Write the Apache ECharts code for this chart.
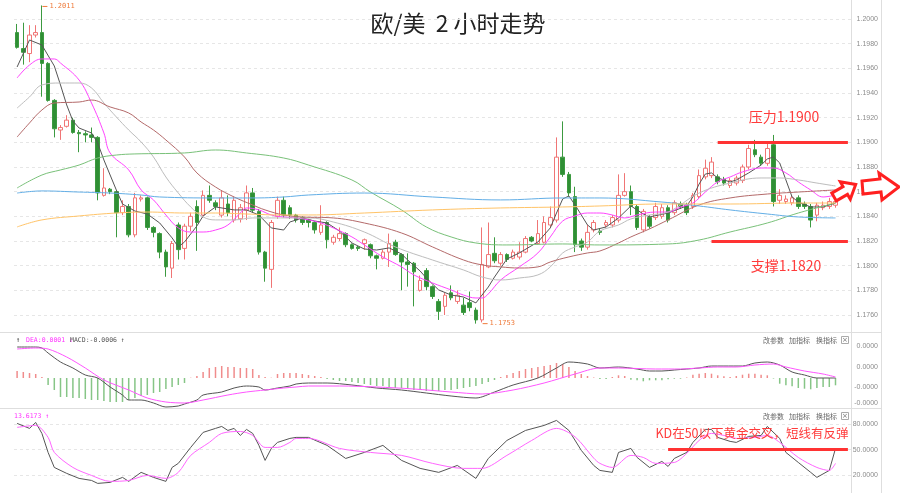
<!DOCTYPE html>
<html><head><meta charset="utf-8">
<script src="https://cdn.jsdelivr.net/npm/echarts@6/dist/echarts.min.js"></script>
<style>html,body{margin:0;padding:0;background:#fff}#c{width:900px;height:493px}</style>
</head><body><div id="c"></div>
<script>
// ---------- data ----------
const categories = Array.from({length:135},(_,i)=>'K'+(i+1));
// [open, close, low, high]
const candles = [
[1.1989,1.1977,1.1976,1.1996],[1.1976,1.1973,1.1963,1.1997],[1.1972,1.1987,1.1965,1.1995],[1.1987,1.1989,1.1985,1.1995],[1.1989,1.1964,1.1937,1.2011],
[1.1964,1.1934,1.1933,1.1965],[1.1934,1.1911,1.1904,1.1935],[1.1910,1.1912,1.1902,1.1914],[1.1913,1.1918,1.1912,1.1922],[1.1918,1.1908,1.1907,1.1920],
[1.1908,1.1907,1.1892,1.1910],[1.1907,1.1906,1.1900,1.1909],[1.1906,1.1904,1.1900,1.1912],[1.1904,1.1859,1.1853,1.1905],[1.1857,1.1863,1.1856,1.1879],
[1.1862,1.1860,1.1858,1.1863],[1.1860,1.1843,1.1823,1.1861],[1.1843,1.1848,1.1841,1.1853],[1.1848,1.1825,1.1823,1.1850],[1.1825,1.1855,1.1823,1.1859],
[1.1854,1.1855,1.1852,1.1857],[1.1855,1.1831,1.1829,1.1856],[1.1831,1.1827,1.1823,1.1832],[1.1826,1.1811,1.1806,1.1827],[1.1811,1.1799,1.1791,1.1813],
[1.1798,1.1818,1.1790,1.1820],[1.1833,1.1813,1.1805,1.1835],[1.1814,1.1832,1.1805,1.1834],[1.1832,1.1840,1.1828,1.1843],[1.1848,1.1835,1.1812,1.1853],
[1.1841,1.1857,1.1839,1.1861],[1.1857,1.1853,1.1851,1.1865],[1.1851,1.1848,1.1845,1.1853],[1.1841,1.1855,1.1839,1.1861],[1.1850,1.1843,1.1840,1.1857],
[1.1837,1.1853,1.1835,1.1856],[1.1838,1.1847,1.1835,1.1850],[1.1845,1.1859,1.1837,1.1865],[1.1859,1.1845,1.1843,1.1863],[1.1844,1.1811,1.1809,1.1846],
[1.1811,1.1798,1.1787,1.1812],[1.1797,1.1835,1.1782,1.1837],[1.1840,1.1853,1.1838,1.1856],[1.1853,1.1841,1.1839,1.1856],[1.1847,1.1841,1.1838,1.1849],
[1.1841,1.1837,1.1835,1.1842],[1.1839,1.1835,1.1833,1.1840],[1.1837,1.1835,1.1831,1.1838],[1.1835,1.1829,1.1826,1.1836],[1.1827,1.1833,1.1825,1.1849],
[1.1835,1.1821,1.1814,1.1836],[1.1819,1.1823,1.1817,1.1825],[1.1822,1.1826,1.1820,1.1831],[1.1826,1.1817,1.1815,1.1827],[1.1817,1.1814,1.1813,1.1818],
[1.1815,1.1814,1.1812,1.1816],[1.1818,1.1821,1.1813,1.1822],[1.1817,1.1808,1.1806,1.1818],[1.1808,1.1806,1.1797,1.1809],[1.1806,1.1811,1.1805,1.1813],
[1.1811,1.1818,1.1799,1.1826],[1.1819,1.1809,1.1808,1.1821],[1.1809,1.1803,1.1780,1.1810],[1.1803,1.1801,1.1783,1.1810],[1.1802,1.1795,1.1767,1.1803],
[1.1780,1.1788,1.1779,1.1792],[1.1796,1.1783,1.1780,1.1798],[1.1783,1.1775,1.1773,1.1784],[1.1771,1.1763,1.1756,1.1773],[1.1767,1.1776,1.1760,1.1778],
[1.1778,1.1774,1.1772,1.1784],[1.1771,1.1776,1.1769,1.1780],[1.1768,1.1762,1.1760,1.1774],[1.1770,1.1766,1.1763,1.1779],[1.1764,1.1756,1.1753,1.1766],
[1.1756,1.1801,1.1754,1.1831],[1.1799,1.1809,1.1798,1.1835],[1.1810,1.1804,1.1802,1.1823],[1.1802,1.1809,1.1800,1.1811],[1.1809,1.1805,1.1803,1.1810],
[1.1806,1.1811,1.1805,1.1813],[1.1807,1.1811,1.1805,1.1819],[1.1811,1.1822,1.1810,1.1824],[1.1823,1.1820,1.1819,1.1824],[1.1818,1.1826,1.1817,1.1837],
[1.1819,1.1835,1.1818,1.1840],[1.1833,1.1839,1.1831,1.1848],[1.1837,1.1888,1.1835,1.1904],[1.1888,1.1874,1.1872,1.1917],[1.1874,1.1859,1.1856,1.1876],
[1.1856,1.1817,1.1811,1.1864],[1.1820,1.1815,1.1812,1.1822],[1.1815,1.1827,1.1813,1.1833],[1.1829,1.1835,1.1827,1.1837],[1.1828,1.1827,1.1825,1.1830],
[1.1833,1.1835,1.1831,1.1837],[1.1833,1.1839,1.1831,1.1841],[1.1837,1.1857,1.1835,1.1874],[1.1857,1.1860,1.1856,1.1875],[1.1860,1.1848,1.1841,1.1865],
[1.1848,1.1831,1.1829,1.1850],[1.1829,1.1844,1.1827,1.1846],[1.1839,1.1832,1.1830,1.1841],[1.1839,1.1848,1.1837,1.1851],[1.1840,1.1847,1.1838,1.1850],
[1.1847,1.1837,1.1835,1.1849],[1.1843,1.1851,1.1841,1.1853],[1.1850,1.1848,1.1846,1.1852],[1.1849,1.1843,1.1841,1.1851],[1.1848,1.1857,1.1846,1.1859],
[1.1856,1.1873,1.1854,1.1878],[1.1872,1.1879,1.1870,1.1886],[1.1873,1.1884,1.1871,1.1888],[1.1872,1.1868,1.1866,1.1874],[1.1870,1.1867,1.1865,1.1872],
[1.1865,1.1869,1.1863,1.1871],[1.1867,1.1871,1.1865,1.1873],[1.1869,1.1880,1.1867,1.1882],[1.1880,1.1895,1.1878,1.1898],[1.1894,1.1890,1.1888,1.1902],
[1.1888,1.1883,1.1881,1.1890],[1.1883,1.1895,1.1881,1.1899],[1.1898,1.1852,1.1848,1.1906],[1.1853,1.1857,1.1850,1.1862],[1.1852,1.1854,1.1850,1.1857],
[1.1851,1.1855,1.1849,1.1857],[1.1855,1.1848,1.1846,1.1857],[1.1850,1.1848,1.1846,1.1852],[1.1848,1.1837,1.1831,1.1850],[1.1841,1.1849,1.1836,1.1851],
[1.1847,1.1849,1.1845,1.1852],[1.1848,1.1852,1.1846,1.1855],[1.1849,1.1852,1.1847,1.1854]
];
// moving averages: [candle index, value]
const ma5 = [[0,1.19611],[2,1.19830],[4,1.19789],[6,1.19619],[7,1.19465],[8,1.19303],[9,1.19173],[10,1.19116],[12,1.19076],[13,1.18995],[14,1.18857],[16,1.18614],[17,1.18500],[19,1.18443],[21,1.18419],[23,1.18346],[25,1.18225],[26,1.18152],[27,1.18192],[29,1.18322],[30,1.18403],[32,1.18476],[35,1.18452],[37,1.18452],[39,1.18411],[41,1.18306],[43,1.18289],[44,1.18354],[46,1.18387],[48,1.18362],[50,1.18346],[52,1.18281],[54,1.18184],[56,1.18135],[58,1.18127],[60,1.18144],[62,1.18095],[63,1.18046],[65,1.17957],[66,1.17900],[68,1.17803],[70,1.17762],[72,1.17746],[74,1.17698],[76,1.17827],[77,1.17908],[79,1.18054],[81,1.18103],[84,1.18192],[86,1.18306],[87,1.18427],[88,1.18541],[89,1.18565],[90,1.18492],[92,1.18330],[93,1.18289],[95,1.18314],[97,1.18387],[99,1.18484],[101,1.18419],[102,1.18395],[105,1.18427],[108,1.18484],[109,1.18557],[110,1.18662],[111,1.18743],[112,1.18752],[113,1.18711],[115,1.18679],[116,1.18695],[118,1.18752],[120,1.18816],[121,1.18865],[122,1.18881],[123,1.18833],[124,1.18695],[125,1.18557],[126,1.18516],[128,1.18476],[130,1.18476],[132,1.18508]];
const ma10 = [[0,1.19522],[2,1.19627],[4,1.19676],[6,1.19676],[7,1.19643],[10,1.19505],[12,1.19319],[14,1.19076],[15,1.18914],[18,1.18776],[20,1.18614],[22,1.18533],[24,1.18411],[26,1.18306],[28,1.18273],[30,1.18273],[32,1.18289],[34,1.18330],[36,1.18427],[37,1.18468],[39,1.18452],[41,1.18411],[43,1.18395],[45,1.18387],[47,1.18371],[49,1.18346],[51,1.18306],[54,1.18233],[56,1.18168],[59,1.18071],[62,1.17990],[64,1.17925],[67,1.17860],[70,1.17803],[72,1.17762],[74,1.17738],[75,1.17738],[76,1.17771],[78,1.17884],[81,1.17990],[84,1.18103],[86,1.18233],[88,1.18362],[90,1.18403],[92,1.18427],[94,1.18427],[96,1.18411],[98,1.18387],[100,1.18411],[103,1.18435],[105,1.18435],[107,1.18476],[109,1.18508],[111,1.18597],[113,1.18679],[115,1.18719],[117,1.18760],[120,1.18792],[122,1.18792],[124,1.18752],[126,1.18679],[128,1.18614],[130,1.18557],[132,1.18573]];
const ma20 = [[0,1.19278],[2,1.19368],[4,1.19465],[7,1.19481],[10,1.19481],[12,1.19441],[14,1.19319],[16,1.19206],[18,1.19100],[20,1.19003],[22,1.18881],[24,1.18719],[26,1.18589],[28,1.18476],[30,1.18395],[32,1.18371],[35,1.18371],[38,1.18387],[41,1.18387],[44,1.18387],[47,1.18387],[51,1.18354],[56,1.18273],[61,1.18152],[67,1.18046],[72,1.17965],[75,1.17908],[78,1.17884],[81,1.17900],[84,1.17925],[86,1.17990],[88,1.18103],[90,1.18152],[92,1.18192],[94,1.18281],[97,1.18330],[99,1.18379],[102,1.18411],[105,1.18435],[110,1.18589],[115,1.18670],[120,1.18711],[123,1.18711],[126,1.18695],[129,1.18670],[132,1.18646]];
const ma30 = [[0,1.19043],[2,1.19157],[4,1.19262],[6,1.19319],[10,1.19327],[12,1.19343],[15,1.19287],[18,1.19238],[20,1.19165],[22,1.19100],[24,1.19019],[27,1.18881],[29,1.18752],[32,1.18638],[35,1.18557],[38,1.18492],[40,1.18452],[43,1.18411],[46,1.18395],[51,1.18387],[56,1.18346],[62,1.18265],[67,1.18152],[72,1.18046],[75,1.18006],[78,1.17990],[81,1.17981],[84,1.17990],[86,1.18030],[89,1.18071],[92,1.18103],[94,1.18119],[97,1.18184],[99,1.18233],[102,1.18298],[105,1.18371],[110,1.18492],[115,1.18549],[121,1.18581],[126,1.18597],[132,1.18614]];
const ma60 = [[0,1.18630],[4,1.18735],[7,1.18776],[10,1.18816],[13,1.18873],[16,1.18897],[19,1.18906],[27,1.18914],[32,1.18938],[37,1.18914],[43,1.18873],[47,1.18816],[54,1.18695],[57,1.18597],[62,1.18452],[66,1.18314],[70,1.18233],[74,1.18184],[79,1.18168],[88,1.18176],[94,1.18168],[105,1.18176],[110,1.18208],[115,1.18273],[121,1.18346],[126,1.18427],[132,1.18508]];
const ma120 = [[0,1.18589],[4,1.18606],[10,1.18597],[15,1.18589],[20,1.18573],[23,1.18557],[32,1.18549],[38,1.18549],[43,1.18557],[47,1.18573],[56,1.18589],[67,1.18557],[78,1.18533],[88,1.18549],[94,1.18549],[104,1.18516],[110,1.18484],[115,1.18452],[121,1.18419],[126,1.18395],[132,1.18387]];
const ma200 = [[0,1.18314],[4,1.18371],[10,1.18403],[16,1.18427],[21,1.18435],[27,1.18427],[32,1.18427],[37,1.18419],[43,1.18411],[47,1.18411],[56,1.18427],[67,1.18452],[78,1.18468],[88,1.18476],[94,1.18484],[104,1.18500],[115,1.18500],[126,1.18508],[132,1.18508]];
// MACD panel (arbitrary units)
const macdHist = [7,6,5,4,1,-7,-12,-19,-19,-20,-20,-21,-22,-22,-23,-24,-24,-24,-22,-20,-18,-17,-15,-14,-11,-9,-7,-5,0.3,2,6,10,11,12,11,11,10,10,9,3,1,0.3,4,5,5,5,
4,3,2,1,-1,-2,-3,-3,-4,-5,-6,-7,-8,-8,-9,-10,-10,-11,-12,-12,-13,-13,-13,-12,-12,-11,-10,-9,-8,-6,-4,-2,1,3,5,7,9,10,11,12,13,15,14,11,7,4,2,0.5,
-1,-1,1,2.7,2,-1.7,-2.3,-3.3,-2.3,-2.3,-2.3,-1.3,-0.7,-0.7,0.5,3.3,4.3,5,4.3,2.7,1.7,1,2,3.3,4.3,4.3,3.3,2.7,-0.5,-5.7,-7.3,-8.3,-10,-10.7,-11.3,-10,-9,-9,-7.3];
const dif = [[0,31],[3,31],[4,30],[5,25],[7,16],[9,10],[11,3],[13,0],[15,-9],[17,-17],[18,-22],[20,-22],[22,-25],[24,-29],[26,-28],[27,-26],[29,-22],[30,-17],[33,-14],[35,-10],[37,-8],[39,-9],[40,-12],[42,-10],[44,-8],[45,-6],[47,-5],[50,-5],[54,-7],[58,-10],[62,-12],[66,-15],[70,-18],[74,-20],[77,-14],[80,-7],[84,0],[87,10],[89,16],[92,14],[94,10],[97,11],[100,9],[102,7],[104,7],[106,8],[108,9],[110,10],[112,12],[114,12],[117,12],[119,15],[121,16],[123,13],[125,6],[127,3],[129,0],[131,0],[132,0]];
const dea = [[0,29],[3,30],[5,29],[8,21],[11,10],[14,-2],[18,-12],[21,-20],[24,-24],[27,-25],[30,-22],[34,-17],[37,-14],[40,-12],[43,-10],[45,-9],[47,-8],[52,-8],[58,-9],[64,-11],[70,-14],[75,-16],[80,-12],[85,-5],[90,4],[94,10],[97,10],[103,9],[107,9],[110,10],[113,11],[116,11],[119,13],[122,14],[124,11],[127,7],[130,4],[132,1]];
const macdTickValues = [32,11,-9,-25];
const macdTickLabels = ['0.0000','0.0000','-0.0000','-0.0000'];
// KD panel
const kLine = [[0,80.9],[2,75],[3,82],[4,69.1],[5,46.7],[6,29],[8,22],[10,16.1],[12,13.7],[13,10.2],[15,11.4],[17,17.3],[18,12.6],[20,23.2],[22,17.3],[24,12.6],[25,29],[26,33.8],[28,52.6],[30,70.3],[32,75],[33,77.3],[34,72.6],[35,75],[36,66.7],[37,73.8],[38,69.1],[39,55],[40,37.3],[41,51.4],[42,58.5],[44,63.2],[45,64.4],[47,64.4],[50,55],[53,39.6],[56,46.7],[59,55],[62,37.3],[65,27.9],[68,23.2],[71,31.4],[74,16.1],[76,39.6],[79,60.8],[82,72.6],[85,78.5],[87,84.4],[89,72.6],[91,49.1],[93,31.4],[94,25.5],[96,23.2],[97,46.7],[99,51.4],[100,40.8],[102,29],[104,36.1],[105,30.2],[106,39.6],[108,46.7],[109,58.5],[111,73.8],[112,73.8],[113,64.4],[115,59.7],[116,58.5],[118,65.6],[120,66.7],[121,77.3],[123,63.2],[124,46.7],[126,34.9],[128,23.2],[129,17.3],[131,25.5],[132,51.4]];
const dLine = [[0,76.2],[3,78.5],[5,64.4],[6,46.7],[9,29],[12,19.6],[15,12.6],[18,13.7],[21,19.6],[24,16.1],[26,23.2],[28,43.2],[31,58.5],[33,69.1],[36,71.4],[38,66.7],[40,52.6],[42,52.6],[44,58.5],[45,63.2],[47,63.2],[52,51.4],[57,46.7],[62,43.2],[67,33.8],[72,27.9],[75,27.9],[79,43.2],[83,60.8],[87,75],[90,65],[93,40],[94,33.8],[96,29],[99,43.2],[101,40.8],[103,33.8],[106,34.9],[108,45.5],[110,60.8],[112,69.1],[114,66.7],[116,63.2],[119,64.4],[121,66.7],[123,58.5],[126,40.8],[129,29],[131,25.5],[132,33.8]];
const kdTicks = [20,50,80];
const priceHigh = {idx:4, value:1.2011, label:'1.2011'};
const priceLow = {idx:74, value:1.1753, label:'1.1753'};
const resistance = 1.19, support = 1.182, kdLevel = 50;

// ---------- chart ----------
const chart = echarts.init(document.getElementById('c'));
const L = 14, R = 49;
const lineS = (name, data, color, ax, smooth, w) => ({
  name, type:'line', data, xAxisIndex:ax, yAxisIndex:ax, showSymbol:false, symbol:'none',
  smooth: smooth, lineStyle:{color, width:w||1}, z:3, silent:true
});
const labelFont = {fontSize:7, color:'#8c8c8c', fontFamily:'Liberation Sans', align:'right', margin:27};
const option = {
  animation:false,
  backgroundColor:'#fff',
  grid:[
    {left:L, right:R, top:0, height:331},
    {left:L, right:R, top:333, height:76},
    {left:L, right:R, top:411, height:73}
  ],
  xAxis:[0,1,2].map(g=>({type:'category', gridIndex:g, data:categories, boundaryGap:true, show:false})),
  yAxis:[
    {gridIndex:0, position:'right', min:1.174703, max:1.201541, minInterval:0.002, maxInterval:0.002, splitNumber:13,
     axisLine:{show:false}, axisTick:{show:false},
     axisLabel:Object.assign({showMinLabel:false, showMaxLabel:false, formatter:v=>v.toFixed(4)}, labelFont),
     splitLine:{show:true, showMinLine:false, showMaxLine:false, lineStyle:{color:'#e6e6e6', type:[3,3]}}},
    {gridIndex:1, position:'right', min:-31, max:45,
     axisLine:{show:false}, axisTick:{show:false}, splitLine:{show:false},
     axisLabel:Object.assign({customValues:macdTickValues, formatter:v=>{const k=macdTickValues.indexOf(Math.round(v));return k<0?'':macdTickLabels[k];}}, labelFont)},
    {gridIndex:2, position:'right', min:9.5, max:95.5,
     axisLine:{show:false}, axisTick:{show:false}, splitLine:{show:false},
     axisLabel:Object.assign({customValues:kdTicks, formatter:v=>v.toFixed(4)}, labelFont)}
  ],
  series:[
    {type:'candlestick', data:candles, xAxisIndex:0, yAxisIndex:0, barWidth:4, z:2,
     itemStyle:{color:'#ffffff', color0:'#2f8f34', borderColor:'#f07575', borderColor0:'#3c9a40', borderWidth:1},
     markPoint:{silent:true, symbol:'rect', symbolSize:[5,1], symbolOffset:[3,1],
       itemStyle:{color:'#ee7a3a'},
       label:{show:true, position:'right', distance:2, color:'#ee7a3a', fontSize:7, fontFamily:'DejaVu Sans Mono', formatter:p=>p.name},
       data:[{name:priceHigh.label, coord:[priceHigh.idx, priceHigh.value]},{name:priceLow.label, coord:[priceLow.idx+1, priceLow.value], symbolOffset:[3,0]}]},
     markLine:{silent:true, symbol:['none','none'], label:{show:false},
       lineStyle:{color:'#ff3333', width:3, type:'solid'},
       data:[[{coord:[113,resistance]},{coord:[134,resistance]}],[{coord:[112,support]},{coord:[134,support]}]]}
    },
    lineS('MA5', ma5, '#555555', 0, false),
    lineS('MA10', ma10, '#ff44ff', 0, 0.4),
    lineS('MA20', ma20, '#bdbdbd', 0, 0.4),
    lineS('MA30', ma30, '#b46a6a', 0, 0.4),
    lineS('MA60', ma60, '#79c179', 0, 0.4),
    lineS('MA120', ma120, '#62aee6', 0, 0.4),
    lineS('MA200', ma200, '#ffc468', 0, 0.4),
    {type:'bar', data:macdHist, xAxisIndex:1, yAxisIndex:1, barWidth:1.5, silent:true,
     itemStyle:{color:p=>p.value>=0?'#f08c8c':'#86c586'}},
    lineS('DIF', dif, '#555555', 1, 0.3),
    lineS('DEA', dea, '#ff55ff', 1, 0.3),
    Object.assign(lineS('K', kLine, '#555555', 2, false), {markLine:{silent:true, symbol:['none','none'], label:{show:false}, lineStyle:{color:'#ff3333', width:3, type:'solid'}, data:[[{coord:[105,kdLevel]},{coord:[134,kdLevel]}]]}}),
    Object.assign(lineS('D', dLine, '#ff66ff', 2, 0.3), {markLine:{silent:true, symbol:['none','none'], label:{show:false}, z:1, lineStyle:{color:'#e6e6e6', width:1, type:[3,3]}, data:kdTicks.map(v=>({yAxis:v}))}})
  ],
  graphic:[
    {type:'line', shape:{x1:851.5,y1:0,x2:851.5,y2:493}, style:{stroke:'#dedede', lineWidth:1}, silent:true},
    {type:'line', shape:{x1:881.5,y1:0,x2:881.5,y2:493}, style:{stroke:'#dedede', lineWidth:1}, silent:true},
    {type:'line', shape:{x1:0,y1:332.5,x2:881.5,y2:332.5}, style:{stroke:'#dedede', lineWidth:1}, silent:true},
    {type:'line', shape:{x1:0,y1:408.5,x2:881.5,y2:408.5}, style:{stroke:'#dedede', lineWidth:1}, silent:true},
    {type:'text', x:458, y:23, style:{text:'欧/美  2 小时走势', fill:'#222', font:'23px "Noto Sans CJK SC"', textAlign:'center', textVerticalAlign:'middle'}},
    {type:'text', x:784, y:117, z:50, style:{text:'压力1.1900', fill:'#ff3b3b', font:'14px "Noto Sans CJK SC"', textAlign:'center', textVerticalAlign:'middle'}},
    {type:'text', x:786, y:266, z:50, style:{text:'支撑1.1820', fill:'#ff3b3b', font:'14px "Noto Sans CJK SC"', textAlign:'center', textVerticalAlign:'middle'}},
    {type:'text', x:752, y:433, z:50, style:{text:'KD在50以下黄金交叉，短线有反弹', fill:'#ff3b3b', font:'12.5px "Noto Sans CJK SC"', textAlign:'center', textVerticalAlign:'middle'}},
    {type:'polygon', z:60, shape:{points:[[831.8,193.1],[843,186.6],[840.3,181.8],[855.7,184.5],[850.3,199.2],[847.5,194.4],[836.3,200.9]]}, style:{fill:'#fff', stroke:'#ff2020', lineWidth:3, lineJoin:'miter'}},
    {type:'polygon', z:60, shape:{points:[[862,181],[880,179],[879,173],[899,187],[882,200],[881,192],[863,194]]}, style:{fill:'#fff', stroke:'#ff2020', lineWidth:3, lineJoin:'miter'}},
    // MACD header
    {type:'text', x:16, y:340, style:{text:'↑', fill:'#333', font:'7px "DejaVu Sans Mono"', textVerticalAlign:'middle'}},
    {type:'text', x:26, y:340, style:{text:'DEA:0.0001 ↓', fill:'#ff33ff', font:'6.5px "DejaVu Sans Mono"', textVerticalAlign:'middle'}},
    {type:'text', x:70, y:340, style:{text:'MACD:-0.0006 ↑', fill:'#555', font:'6.5px "DejaVu Sans Mono"', textVerticalAlign:'middle'}},
    {type:'text', x:14, y:416, style:{text:'13.6173 ↑', fill:'#ff33ff', font:'6.5px "DejaVu Sans Mono"', textVerticalAlign:'middle'}},
    // panel buttons
    ...[340,416].flatMap(y=>[
      {type:'text', x:763, y:y, style:{text:'改参数', fill:'#666', font:'7px "Noto Sans CJK SC"', textVerticalAlign:'middle'}},
      {type:'text', x:789, y:y, style:{text:'加指标', fill:'#666', font:'7px "Noto Sans CJK SC"', textVerticalAlign:'middle'}},
      {type:'text', x:816, y:y, style:{text:'换指标', fill:'#666', font:'7px "Noto Sans CJK SC"', textVerticalAlign:'middle'}},
      {type:'rect', shape:{x:841.5,y:y-3.5,width:7,height:7}, style:{fill:'#fff', stroke:'#aaa', lineWidth:1}},
      {type:'text', x:845, y:y, style:{text:'×', fill:'#777', font:'7px "DejaVu Sans"', textAlign:'center', textVerticalAlign:'middle'}}
    ])
  ]
};
chart.setOption(option);
</script>
</body></html>
